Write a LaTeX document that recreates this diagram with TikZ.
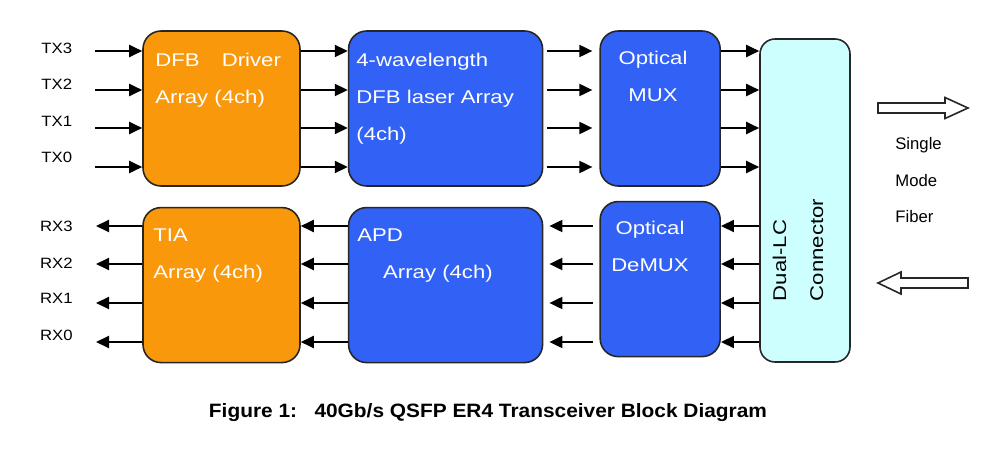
\documentclass[tikz,border=0pt]{standalone}
\usepackage{fontspec}
\setmainfont{Liberation Sans}
\usetikzlibrary{positioning,arrows.meta}

\definecolor{drvorange}{RGB}{250,152,12}
\definecolor{lasblue}{RGB}{50,98,245}
\definecolor{conncyan}{RGB}{206,255,255}

\tikzset{
  blk/.style={draw=black!85, line width=0.9pt, rounded corners=0.36cm, inner sep=0pt},
  elec/.style={blk, fill=drvorange, minimum width=3.14cm, minimum height=3.10cm},
  opt/.style={blk, fill=lasblue, minimum height=3.10cm},
  boxtxt/.style={text=white, font=\fontsize{10.5}{21}\selectfont, xscale=1.2, inner sep=0pt},
  pinlbl/.style={font=\fontsize{8.5}{10}\selectfont, xscale=1.12, inner sep=0pt, anchor=east},
  sig/.style={-{Triangle[length=0.26cm,width=0.24cm]}, line width=1.1pt},
  fibre/.style={draw=black!85, line width=0.9pt, fill=white},
}

\begin{document}
\begin{tikzpicture}
\useasboundingbox (0,0) rectangle (20,-9.04);

% blocks
\node (drv) [elec] at (4.43,-2.17) {};
\node (tia) [elec, below=0.40cm of drv] {};
\node (las) [opt, minimum width=3.88cm, right=0.94cm of drv] {};
\node (apd) [opt, minimum width=3.88cm, below=0.40cm of las] {};
\node (mux) [opt, minimum width=2.40cm, right=1.12cm of las] {};
\node (dmx) [opt, minimum width=2.40cm, below=0.28cm of mux] {};
\node (con) [blk, rounded corners=0.3cm, fill=conncyan, minimum width=1.80cm, minimum height=6.46cm] at (16.10,-4.01) {};

% block texts
\node (drvtxt) [boxtxt, anchor=base west] at (3.10,-1.34) {\begin{tabular}[t]{@{}l@{}} DFB\quad Driver \\ Array (4ch) \end{tabular}};
\node (tiatxt) [boxtxt, anchor=base west] at (3.06,-4.83) {\begin{tabular}[t]{@{}l@{}} TIA \\ Array (4ch) \end{tabular}};
\node (lastxt) [boxtxt, anchor=base west] at (7.12,-1.33) {\begin{tabular}[t]{@{}l@{}} 4-wavelength \\ DFB laser Array \\ (4ch) \end{tabular}};
\node (apdtxt) [boxtxt, anchor=base west] at (7.14,-4.84) {\begin{tabular}[t]{@{}l@{}} APD \\ \hspace*{0.43cm}Array (4ch) \end{tabular}};
\node (muxtxt) [boxtxt, anchor=base] at (13.06,-1.30) {\begin{tabular}[t]{@{}c@{}} Optical \\ MUX \end{tabular}};
\node (dmxtxt) [boxtxt, anchor=base] at (13.00,-4.70) {\begin{tabular}[t]{@{}c@{}} Optical \\ DeMUX \end{tabular}};
\node (contxt) [rotate=90, boxtxt, text=black, align=left] at (15.96,-5.00) {Dual-LC\\Connector};

% transmit side
\foreach \n/\ya/\yl in {3/1.02/0.96, 2/1.80/1.68, 1/2.56/2.42, 0/3.34/3.14} {
  \coordinate (t\n) at (1.90,-\ya);
  \node (tx\n) [pinlbl] at (1.45,-\yl) {TX\n};
  \draw [sig] (t\n) -- (drv.west |- t\n);
  \draw [sig] (drv.east |- t\n) -- (las.west |- t\n);
  \draw [sig, shorten <=0.08cm, shorten >=0.14cm] (las.east |- t\n) -- (mux.west |- t\n);
  \draw [sig] (mux.east |- t\n) -- (con.west |- t\n);
}

% receive side
\foreach \n/\ya/\yl in {3/4.52/4.52, 2/5.28/5.26, 1/6.06/5.96, 0/6.84/6.70} {
  \coordinate (r\n) at (1.92,-\ya);
  \node (rx\n) [pinlbl] at (1.46,-\yl) {RX\n};
  \draw [sig] (tia.west |- r\n) -- (r\n);
  \draw [sig] (apd.west |- r\n) -- (tia.east |- r\n);
  \draw [sig, shorten <=0.12cm, shorten >=0.12cm] (dmx.west |- r\n) -- (apd.east |- r\n);
  \draw [sig] (con.west |- r\n) -- (dmx.east |- r\n);
}

% fibre
\draw [fibre] (17.56,-2.06) -- (18.90,-2.06) -- (18.90,-1.95) -- (19.36,-2.16) -- (18.90,-2.37) -- (18.90,-2.26) -- (17.56,-2.26) -- cycle;
\draw [fibre] (19.36,-5.56) -- (18.02,-5.56) -- (18.02,-5.44) -- (17.56,-5.66) -- (18.02,-5.88) -- (18.02,-5.76) -- (19.36,-5.76) -- cycle;
\node (smf) [font=\fontsize{9.5}{20.5}\selectfont, inner sep=0pt, anchor=base west] at (17.90,-3.00) {\begin{tabular}[t]{@{}l@{}} Single \\ Mode \\ Fiber \end{tabular}};

\node (caption) [font=\fontsize{11}{13}\selectfont\bfseries, xscale=1.08, inner sep=0pt, anchor=base] at (9.76,-8.34) {Figure 1:~~~40Gb/s QSFP ER4 Transceiver Block Diagram};

\end{tikzpicture}
\end{document}
